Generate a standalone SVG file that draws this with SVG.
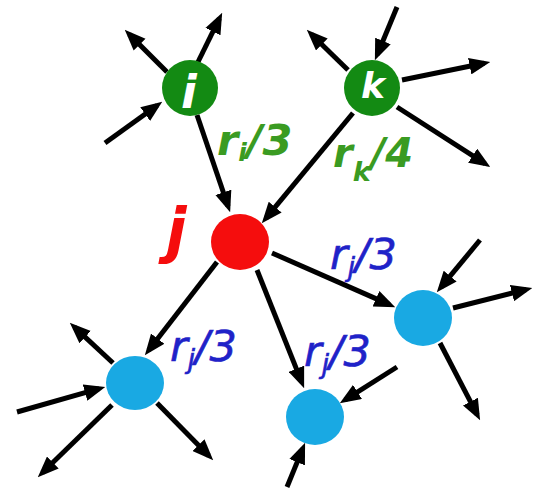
<svg xmlns="http://www.w3.org/2000/svg" width="535" height="489" viewBox="0 0 535 489">
<style>
.e{stroke:#000;stroke-width:5;fill:none;marker-end:url(#ah)}
.lbl{font-family:"DejaVu Sans",sans-serif;font-style:italic}
.g{fill:#3a9b22;font-weight:bold}
.b{fill:#1f22c8;stroke:#1f22c8;stroke-width:0.6}
.nl{fill:#fff;font-family:"DejaVu Sans",sans-serif;font-style:italic;font-weight:bold;text-anchor:middle}
.gn{fill:#138a13}
.bn{fill:#19a9e3}
</style>
<defs>
<marker id="ah" viewBox="0 0 20 16" markerWidth="21" markerHeight="17" refX="14" refY="8" markerUnits="userSpaceOnUse" orient="auto">
<path d="M0,0 L20,8 L0,16 z" fill="#000"/>
</marker>
</defs>
<rect width="535" height="489" fill="#fff"/>
<g id="connectors">
<line class="e" x1="167" y1="72" x2="129.2" y2="34.2"/>
<line class="e" x1="198" y1="62" x2="219.4" y2="18.4"/>
<line class="e" x1="105" y1="143" x2="157.1" y2="105.5"/>
<line class="e" x1="197" y1="115" x2="228.1" y2="206.3"/>
<line class="e" x1="348" y1="70" x2="311.3" y2="34.2"/>
<line class="e" x1="397" y1="7" x2="377.3" y2="54.5"/>
<line class="e" x1="402" y1="80" x2="484.1" y2="63.2"/>
<line class="e" x1="397" y1="107" x2="485" y2="163.7"/>
<line class="e" x1="353" y1="113" x2="265.8" y2="218.4"/>
<line class="e" x1="217" y1="262" x2="148.7" y2="350.3"/>
<line class="e" x1="272" y1="253" x2="389.5" y2="304.6"/>
<line class="e" x1="257" y1="270" x2="301.8" y2="382.4"/>
<line class="e" x1="113" y1="363" x2="74.4" y2="327.1"/>
<line class="e" x1="17" y1="412" x2="99.2" y2="388.6"/>
<line class="e" x1="112" y1="405" x2="42.3" y2="472.8"/>
<line class="e" x1="157" y1="403" x2="208.8" y2="455.7"/>
<line class="e" x1="480" y1="240" x2="440.8" y2="287.4"/>
<line class="e" x1="453" y1="308" x2="526.2" y2="289.5"/>
<line class="e" x1="440" y1="343" x2="477.2" y2="414.7"/>
<line class="e" x1="397" y1="367" x2="345.1" y2="399.8"/>
<line class="e" x1="287" y1="487" x2="302.7" y2="448.6"/>
</g>
<g id="node-i">
<circle class="gn" cx="190" cy="88" r="28"/>
<text class="nl" x="189" y="108" font-size="46">i</text>
</g>
<g id="node-k">
<circle class="gn" cx="372" cy="88" r="28"/>
<text class="nl" x="373" y="98" font-size="36">k</text>
</g>
<g id="node-j">
<ellipse cx="240" cy="242" rx="29" ry="28" fill="#f50d0d"/>
<text x="166" y="251" font-size="60" fill="#f50d0d" font-family="DejaVu Sans,sans-serif" font-style="italic" font-weight="bold">j</text>
</g>
<g id="node-right">
<ellipse class="bn" cx="423" cy="318" rx="29" ry="28"/>
</g>
<g id="node-bottom">
<ellipse class="bn" cx="315" cy="417" rx="29" ry="28"/>
</g>
<g id="node-left">
<ellipse class="bn" cx="135" cy="383" rx="29" ry="27"/>
</g>
<g id="labels">
<text class="lbl g" x="217" y="155" font-size="43">r<tspan font-size="25" dy="6">i</tspan><tspan dy="-6">/3</tspan></text>
<text class="lbl g" x="333" y="167" font-size="40">r<tspan font-size="27" dy="14">k</tspan><tspan dy="-14">/4</tspan></text>
<text class="lbl b" x="330" y="269" font-size="43">r<tspan font-size="26" dy="7">j</tspan><tspan dy="-7">/3</tspan></text>
<text class="lbl b" x="170" y="361" font-size="43">r<tspan font-size="26" dy="7">j</tspan><tspan dy="-7">/3</tspan></text>
<text class="lbl b" x="304" y="366" font-size="43">r<tspan font-size="26" dy="7">j</tspan><tspan dy="-7">/3</tspan></text>
</g>
</svg>
